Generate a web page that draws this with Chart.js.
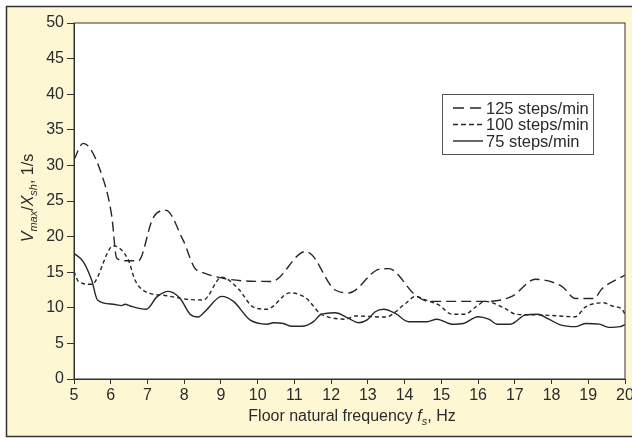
<!DOCTYPE html>
<html>
<head>
<meta charset="utf-8">
<script src="https://cdn.jsdelivr.net/npm/chart.js@4"></script>
<style>
  html, body { margin: 0; padding: 0; background: #fff; }
  #wrap { width: 632px; height: 440px; position: relative; }
</style>
</head>
<body>
<div id="wrap"><canvas id="grafico" width="632" height="440"></canvas></div>
<script>
// Frequências (Hz) e respostas (1/s)
const f125 = [5.0, 5.25, 5.8, 6.03, 6.16, 6.4, 6.75, 7.15, 7.5, 7.97, 8.34, 10.38, 11.3, 11.48, 12.11, 12.48, 13.3, 13.57, 14.29, 14.66, 16.2, 16.92, 17.56, 18.28, 18.65, 19.15, 19.38, 20.0];
const v125 = [30.8, 33.1, 28.0, 22.8, 17.0, 16.6, 16.6, 22.6, 23.7, 19.5, 15.3, 13.7, 17.9, 17.4, 12.5, 12.1, 15.4, 15.5, 11.8, 10.9, 10.9, 11.6, 14.0, 13.0, 11.3, 11.3, 12.7, 14.6];

const f100 = [5.0, 5.12, 5.48, 6.07, 6.48, 6.66, 6.93, 7.52, 8.07, 8.52, 9.02, 9.47, 9.88, 10.25, 10.88, 11.33, 11.7, 11.93, 12.39, 12.66, 13.48, 14.02, 14.3, 14.57, 14.93, 15.29, 15.65, 15.93, 16.2, 16.74, 17.02, 17.65, 18.65, 18.92, 19.42, 19.65, 19.92, 20.0];
const v100 = [15.1, 13.7, 13.3, 18.7, 16.7, 13.9, 12.3, 11.7, 11.2, 11.1, 14.3, 12.7, 10.1, 9.8, 12.1, 11.3, 9.2, 8.7, 8.4, 8.85, 8.7, 10.6, 11.6, 11.1, 10.4, 9.1, 9.1, 10.1, 10.9, 9.9, 9.1, 9.0, 8.75, 10.1, 10.7, 10.25, 9.8, 9.1];

const f75 = [5.0, 5.25, 5.48, 5.64, 6.07, 6.3, 6.39, 6.53, 6.97, 7.25, 7.57, 7.89, 8.16, 8.38, 8.57, 9.02, 9.34, 9.79, 10.25, 10.43, 10.7, 10.93, 11.2, 11.52, 11.7, 11.85, 12.11, 12.48, 12.75, 12.98, 13.2, 13.43, 13.75, 14.11, 14.61, 14.88, 15.29, 15.6, 16.0, 16.29, 16.52, 16.88, 17.29, 17.62, 17.93, 18.24, 18.65, 18.92, 19.3, 19.56, 19.87, 20.0];
const v75 = [17.65, 16.5, 13.9, 11.1, 10.5, 10.3, 10.5, 10.25, 9.8, 11.5, 12.3, 11.3, 9.1, 8.7, 9.5, 11.6, 10.9, 8.3, 7.7, 7.9, 7.8, 7.4, 7.4, 8.05, 9.0, 9.2, 9.3, 8.5, 7.9, 8.3, 9.45, 9.8, 9.2, 8.05, 8.05, 8.4, 7.7, 7.8, 8.75, 8.4, 7.7, 7.7, 9.0, 9.1, 8.4, 7.6, 7.35, 7.8, 7.7, 7.25, 7.35, 7.65];

const rotulos = ["125 steps/min", "100 steps/min", "75 steps/min"];
const tracos = [[10, 5], [4, 3], []];
const tracosLegenda = [[11, 6], [5, 3], []];

const FONTE = '"Liberation Sans", Arial, Helvetica, sans-serif';
const COR_TEXTO = '#2b2b2b';
const COR_LINHA = '#262626';

function pontos(xs, ys) {
  return xs.map((x, i) => ({ x: x, y: ys[i] }));
}

// Fundo amarelo, moldura, legenda e títulos dos eixos
const molduraPlugin = {
  id: 'moldura',
  beforeDraw(chart) {
    const c = chart.ctx;
    const a = chart.chartArea;
    c.save();
    c.fillStyle = '#ffffff';
    c.fillRect(0, 0, chart.width, chart.height);
    c.fillStyle = '#fdf7d3';
    c.fillRect(6, 6, 630, 431);
    c.strokeStyle = '#333';
    c.lineWidth = 1.5;
    c.strokeRect(6.5, 6.5, 640, 430);
    c.fillStyle = '#ffffff';
    c.fillRect(a.left, a.top, a.right - a.left, a.bottom - a.top);
    c.restore();
  },
  afterDraw(chart) {
    const c = chart.ctx;
    const a = chart.chartArea;
    c.save();
    c.strokeStyle = '#333';
    c.lineWidth = 1;
    c.strokeRect(a.left, a.top, a.right - a.left, a.bottom - a.top);

    // legenda
    c.fillStyle = '#fff';
    c.fillRect(442.5, 94.5, 151, 60);
    c.strokeStyle = '#555';
    c.strokeRect(442.5, 94.5, 151, 60);
    c.font = '16.5px ' + FONTE;
    c.textBaseline = 'middle';
    rotulos.forEach((txt, i) => {
      const y = 108 + i * 16.5;
      c.strokeStyle = COR_LINHA;
      c.lineWidth = 1.4;
      c.setLineDash(tracosLegenda[i]);
      c.beginPath();
      c.moveTo(453, y);
      c.lineTo(483, y);
      c.stroke();
      c.setLineDash([]);
      c.fillStyle = COR_TEXTO;
      c.textAlign = 'left';
      c.fillText(txt, 486, y + 1);
    });

    // título do eixo x: Floor natural frequency f_s, Hz
    const partesX = [
      { t: 'Floor natural frequency ', f: '16px ' + FONTE, dy: 0 },
      { t: 'f', f: 'italic 16px ' + FONTE, dy: 0 },
      { t: 's', f: 'italic 11px ' + FONTE, dy: 4 },
      { t: ', Hz', f: '16px ' + FONTE, dy: 0 }
    ];
    desenhaPartes(c, partesX, 352, 421);

    // título do eixo y: V_max/X_sh, 1/s
    const partesY = [
      { t: 'V', f: 'italic 16px ' + FONTE, dy: 0 },
      { t: 'max', f: 'italic 11px ' + FONTE, dy: 4 },
      { t: '/', f: '16px ' + FONTE, dy: 0 },
      { t: 'X', f: 'italic 16px ' + FONTE, dy: 0 },
      { t: 'sh', f: 'italic 11px ' + FONTE, dy: 4 },
      { t: ', 1/s', f: '16px ' + FONTE, dy: 0 }
    ];
    c.translate(33, 198);
    c.rotate(-Math.PI / 2);
    desenhaPartes(c, partesY, 0, 0);
    c.restore();
  }
};

function desenhaPartes(c, partes, cx, baseY) {
  let largura = 0;
  partes.forEach(p => { c.font = p.f; largura += c.measureText(p.t).width; });
  let x = cx - largura / 2;
  c.fillStyle = COR_TEXTO;
  c.textAlign = 'left';
  c.textBaseline = 'alphabetic';
  partes.forEach(p => {
    c.font = p.f;
    c.fillText(p.t, x, baseY + p.dy);
    x += c.measureText(p.t).width;
  });
}

const ctx = document.getElementById('grafico').getContext('2d');

new Chart(ctx, {
  type: 'line',
  data: {
    datasets: [
      { label: rotulos[0], data: pontos(f125, v125), borderDash: tracos[0] },
      { label: rotulos[1], data: pontos(f100, v100), borderDash: tracos[1] },
      { label: rotulos[2], data: pontos(f75, v75), borderDash: tracos[2] }
    ].map(d => Object.assign(d, {
      borderColor: COR_LINHA,
      borderWidth: 1.4,
      pointRadius: 0,
      fill: false,
      cubicInterpolationMode: 'monotone'
    }))
  },
  options: {
    responsive: false,
    animation: false,
    layout: { padding: { left: 6, top: 23, right: 7, bottom: 6 } },
    plugins: {
      legend: { display: false },
      tooltip: { enabled: false }
    },
    scales: {
      x: {
        type: 'linear',
        min: 5,
        max: 20,
        afterFit(scale) {
          scale.height = 55;
          scale.paddingLeft = 0;
          scale.paddingRight = 0;
        },
        ticks: { stepSize: 1, padding: 2, color: COR_TEXTO, font: { family: FONTE, size: 16 } },
        grid: { drawOnChartArea: false, tickLength: 5, color: '#333' },
        border: { color: '#333' }
      },
      y: {
        min: 0,
        max: 50,
        afterFit(scale) {
          scale.width = 68;
          scale.paddingTop = 0;
        },
        ticks: { stepSize: 5, padding: 3, color: COR_TEXTO, font: { family: FONTE, size: 16 } },
        grid: { drawOnChartArea: false, tickLength: 7, color: '#333' },
        border: { color: '#333' }
      }
    }
  },
  plugins: [molduraPlugin]
});
</script>
</body>
</html>
